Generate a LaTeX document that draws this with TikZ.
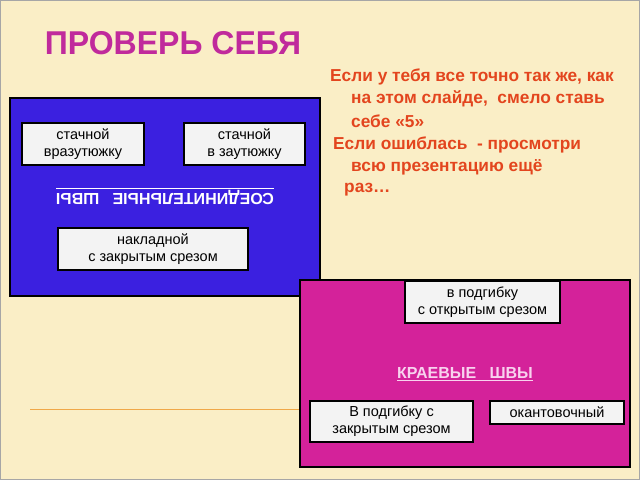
\documentclass[tikz,border=0pt]{standalone}
\usepackage{fontspec}
\setmainfont{Liberation Sans}
\definecolor{bgc}{HTML}{FAEEC6}
\definecolor{titlec}{HTML}{C02A9C}
\definecolor{redc}{HTML}{E3451E}
\definecolor{bluec}{HTML}{3B20E0}
\definecolor{magc}{HTML}{D4229A}
\definecolor{boxc}{HTML}{F3F3F3}
\definecolor{pinkc}{HTML}{F8D2EE}
\definecolor{linec}{HTML}{F0A848}
\begin{document}
\begin{tikzpicture}[x=1pt,y=-1pt,
  panel/.style={draw=black,line width=1.8pt},
  item/.style={draw=black,line width=1.8pt,fill=boxc,inner sep=0pt,align=center,font=\fontsize{14.5}{17}\selectfont},
  note/.style={anchor=west,text=redc,font=\fontsize{17.3}{20}\selectfont\bfseries,inner sep=0pt}]
\fill[bgc] (0,0) rectangle (640,480);
\draw[gray!70,line width=0.8pt] (0.5,0.5) rectangle (639.5,479.5);
\draw[linec,line width=0.6pt] (30,409) -- (300,409);
\node[text=titlec,font=\fontsize{33}{36}\selectfont\bfseries,inner sep=0pt,xscale=0.97] (title) at (173,43) {ПРОВЕРЬ СЕБЯ};
\node[note] (n1) at (330,77) {Если у тебя все точно так же, как};
\node[note] (n2) at (351,99) {на этом слайде,\ \ смело ставь};
\node[note] (n3) at (351,121) {себе «5»};
\node[note] (n4) at (333,145) {Если ошиблась\ \ - просмотри};
\node[note] (n5) at (351,167) {всю презентацию ещё};
\node[note] (n6) at (344,190) {раз…};
% blue panel
\path[panel,fill=bluec] (10,98) rectangle (320,296);
\node[item,minimum width=122pt,minimum height=42pt] (a1) at (83,144) {стачной\\вразутюжку};
\node[item,minimum width=121pt,minimum height=42pt] (a2) at (244.5,144) {стачной\\в заутюжку};
\node[item,minimum width=190pt,minimum height=42pt] (a3) at (153,249) {накладной\\с закрытым срезом};
\node[rotate=180,text=white,font=\fontsize{16}{19}\selectfont\bfseries,inner sep=0pt] (sew1) at (165,196) {\underline{СОЕДИНИТЕЛЬНЫЕ\ \ \ ШВЫ}};
% magenta panel
\path[panel,fill=magc] (300,280) rectangle (630,467);
\node[item,minimum width=155pt,minimum height=42pt] (b1) at (482.5,302) {в подгибку\\с открытым срезом};
\node[item,minimum width=163pt,minimum height=41pt] (b2) at (391.5,421.5) {В подгибку с\\закрытым срезом};
\node[item,minimum width=134pt,minimum height=23pt] (b3) at (557,412.5) {окантовочный};
\node[text=pinkc,font=\fontsize{16}{19}\selectfont\bfseries,inner sep=0pt] (sew2) at (465,374) {\underline{КРАЕВЫЕ\ \ \ ШВЫ}};
\end{tikzpicture}
\end{document}
